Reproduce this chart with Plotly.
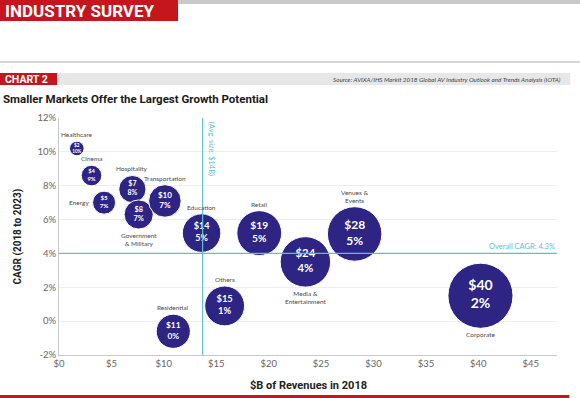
import math
import plotly.graph_objects as go

# ---------------- data ----------------
categories = ["Healthcare", "Cinema", "Energy", "Hospitality", "Government<br>& Military",
              "Transportation", "Education", "Residential", "Others", "Retail",
              "Media &<br>Entertainment", "Venues &<br>Events", "Corporate"]
revenue_pos = [1.7, 3.1, 4.3, 7.0, 7.6, 10.1, 13.6, 10.9, 15.8, 19.1, 23.5, 28.2, 40.2]
cagr_pos = [10.2, 8.6, 7.0, 7.8, 6.3, 7.1, 5.2, -0.6, 0.9, 5.2, 3.5, 5.15, 1.5]
revenue_label = [2, 4, 5, 7, 8, 10, 14, 11, 15, 19, 24, 28, 40]
cagr_label = [10, 9, 7, 8, 7, 7, 5, 0, 1, 5, 4, 5, 2]
label_side = ["top", "top", "left", "top", "bottom", "top", "top", "top", "top", "top",
              "bottom", "top", "bottom"]
x_ticks = [0, 5, 10, 15, 20, 25, 30, 35, 40, 45]
y_ticks = [-2, 0, 2, 4, 6, 8, 10, 12]
avg_size_line = 13.7
overall_cagr_line = 4.0

# ---------------- styling ----------------
W, H = 580, 398
PL, PR, PT, PB = 59, 556.7, 118, 355
RED = "#c5161d"
NAVY = "#2d2483"
TEAL = "#5cc1cf"
BOLDF = "Roboto, Liberation Sans, sans-serif"
SANS = "Lato, Roboto, sans-serif"
SIZEREF = 1 / 53.0


def px_x(p):
    return (p - PL) / (PR - PL)


def px_y(p):
    return (PB - p) / (PB - PT)


def radius(v):
    return math.sqrt(v / (2 * SIZEREF))


fig = go.Figure()

inner_text = [f"<b>${r}<br>{c}%</b>" for r, c in zip(revenue_label, cagr_label)]
inner_size = [2 + 0.37 * radius(v) for v in revenue_label]

fig.add_trace(go.Scatter(
    x=revenue_pos, y=cagr_pos, mode="markers+text",
    marker=dict(size=revenue_label, sizemode="area", sizeref=SIZEREF, color=NAVY,
                line=dict(color="white", width=1), opacity=1),
    text=inner_text, textposition="middle center",
    textfont=dict(color="white", size=inner_size, family=SANS),
    hoverinfo="skip", cliponaxis=False, showlegend=False,
))

annotations = []
for cat, x, y, v, side in zip(categories, revenue_pos, cagr_pos, revenue_label, label_side):
    r = radius(v)
    a = dict(x=x, y=y, xref="x", yref="y", text=cat, showarrow=False,
             font=dict(size=6.5, color="#4a4a4a", family=SANS), align="center")
    if side == "top":
        a.update(yanchor="bottom", yshift=r + 1)
    elif side == "bottom":
        a.update(yanchor="top", yshift=-(r + 1))
    else:
        a.update(xanchor="right", xshift=-(r + 2))
    annotations.append(a)

# reference lines
shapes = [
    dict(type="line", xref="x", yref="paper", x0=avg_size_line, x1=avg_size_line, y0=0, y1=1,
         line=dict(color=TEAL, width=1.2)),
    dict(type="line", xref="paper", yref="y", x0=0, x1=1, y0=overall_cagr_line, y1=overall_cagr_line,
         line=dict(color=TEAL, width=1.2)),
]
annotations.append(dict(x=avg_size_line, y=1, xref="x", yref="paper", text="(Avg. size: $14B)",
                        textangle=90, showarrow=False, xanchor="left", yanchor="top", xshift=3,
                        yshift=-2, font=dict(size=7.5, color=TEAL, family=SANS)))
annotations.append(dict(x=1, y=overall_cagr_line, xref="paper", yref="y", text="Overall CAGR: 4.3%",
                        showarrow=False, xanchor="right", yanchor="bottom", yshift=0,
                        font=dict(size=7.5, color=TEAL, family=SANS)))


# header decoration (in paper coordinates)
def rect(x0, y0, x1, y1, color):
    return dict(type="rect", xref="paper", yref="paper", x0=px_x(x0), x1=px_x(x1),
                y0=px_y(y1), y1=px_y(y0), fillcolor=color, line=dict(width=0), layer="above")


shapes += [
    rect(0, 0, 178, 21, RED),
    rect(178, 0, 580, 4, "#c9c9c9"),
    rect(0, 61, 580, 63, "#d6d6d6"),
    rect(57, 73, 570, 85, "#e7e7e7"),
    rect(0, 73, 57, 85, RED),
    rect(0, 395, 569, 398, RED),
]

annotations += [
    dict(x=px_x(3), y=px_y(11), xref="paper", yref="paper", xanchor="left", yanchor="middle",
         text="<b>INDUSTRY SURVEY</b>", showarrow=False,
         font=dict(size=17, color="white", family=BOLDF)),
    dict(x=px_x(3), y=px_y(79.5), xref="paper", yref="paper", xanchor="left", yanchor="middle",
         text="<b>CHART 2</b>", showarrow=False,
         font=dict(size=10.5, color="white", family=BOLDF)),
    dict(x=px_x(563), y=px_y(79), xref="paper", yref="paper", xanchor="right", yanchor="middle",
         text="<i>Source: AVIXA/IHS Markit 2018 Global AV Industry Outlook and Trends Analysis (IOTA)</i>",
         showarrow=False, font=dict(size=6.3, color="#444444", family=SANS)),
    dict(x=px_x(1), y=px_y(98.5), xref="paper", yref="paper", xanchor="left", yanchor="middle",
         text="<b>Smaller Markets Offer the Largest Growth Potential</b>", showarrow=False,
         font=dict(size=11.5, color="#1a1a1a", family=BOLDF)),
    dict(x=0.5, y=px_y(385), xref="paper", yref="paper", xanchor="center", yanchor="middle",
         text="<b>$B of Revenues in 2018</b>", showarrow=False,
         font=dict(size=11, color="#222222", family="Roboto, sans-serif")),
    dict(x=px_x(18), y=0.5, xref="paper", yref="paper", xanchor="center", yanchor="middle",
         text="<b>CAGR (2018 to 2023)</b>", textangle=-90, showarrow=False,
         font=dict(size=10, color="#222222", family="Roboto, sans-serif")),
]

fig.update_layout(
    width=W, height=H,
    margin=dict(l=PL, r=W - PR, t=PT, b=H - PB, pad=0),
    paper_bgcolor="white", plot_bgcolor="white",
    shapes=shapes, annotations=annotations,
    xaxis=dict(range=[0, 47.5], tickvals=x_ticks, ticktext=[f"${t}" for t in x_ticks],
               showgrid=False, zeroline=False, showline=True, linecolor="#c8c8c8", linewidth=1,
               ticks="", tickfont=dict(size=9.5, color="#666666", family=SANS)),
    yaxis=dict(range=[-2, 12], tickvals=y_ticks, ticktext=[f"{t}%" for t in y_ticks],
               showgrid=True, gridcolor="#eeeeee", gridwidth=1, zeroline=False, showline=True,
               linecolor="#c8c8c8", linewidth=1, ticks="",
               tickfont=dict(size=9.5, color="#666666", family=SANS)),
)

fig.write_html("out.html",
               config={"displayModeBar": False},
               post_script="document.body.style.margin='0';document.body.style.padding='0';"
                           "document.documentElement.style.overflow='hidden';")
